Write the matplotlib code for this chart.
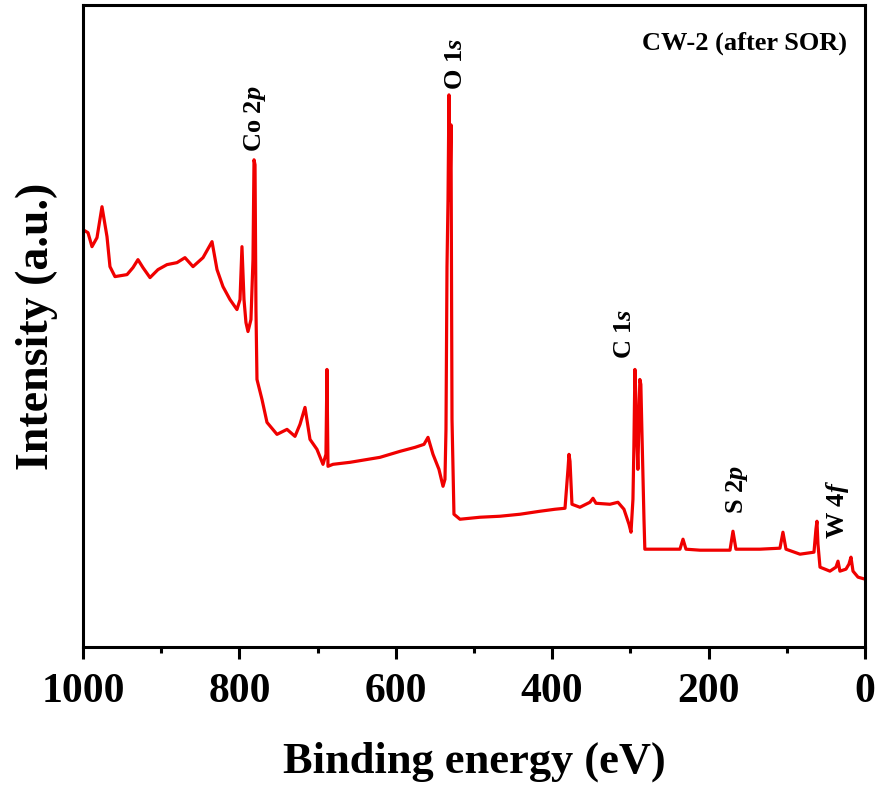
import matplotlib
matplotlib.use("Agg")
import matplotlib.pyplot as plt
from matplotlib.ticker import MultipleLocator

plt.rcParams['font.family'] = ['Liberation Serif', 'DejaVu Serif']
plt.rcParams['font.weight'] = 'bold'
plt.rcParams['mathtext.fontset'] = 'custom'
plt.rcParams['mathtext.it'] = 'Liberation Serif:italic:bold'
plt.rcParams['mathtext.rm'] = 'Liberation Serif:bold'

# Binding energy (eV) and intensity (a.u.)
energy = [1000, 993.6, 988.5, 982.1, 975.7, 969.3, 965.5, 959.1, 943.7, 936.1,
          929.7, 923.3, 914.3, 904.1, 892.6, 879.8, 869.6, 859.3, 846.5, 835.0,
          828.6, 821.0, 812.0, 803.1, 799.2, 796.7, 794.1, 791.6, 789.0, 785.2,
          782.6, 781.3, 780.0, 778.8, 777.5, 771.1, 764.7, 751.9, 739.1, 728.9,
          722.5, 716.1, 709.7, 700.8, 693.1, 689.3, 688.0, 686.7, 680.3, 658.6,
          620.2, 594.6, 575.4, 563.9, 558.8, 552.4, 544.8, 539.6, 537.1, 535.8,
          534.5, 533.2, 532.0, 530.7, 529.4, 528.1, 525.6, 517.9, 492.3, 466.8,
          441.2, 415.6, 396.4, 383.6, 379.8, 378.5, 377.2, 374.7, 364.5, 351.7,
          347.8, 344.0, 326.1, 315.9, 308.2, 301.8, 299.2, 296.7, 295.5, 294.2,
          292.9, 291.7, 290.4, 287.9, 286.6, 285.3, 282.6, 281.5, 262.1, 236.6,
          232.7, 228.9, 211.0, 172.6, 168.8, 165.0, 134.3, 108.7, 104.9, 101.0,
          83.1, 65.2, 62.7, 61.4, 60.1, 57.5, 44.8, 37.1, 34.5, 32.0,
          24.3, 20.5, 17.9, 15.3, 8.9, 0.0]
intensity = [418, 415, 401, 410, 441, 411, 381, 371, 373, 380,
             388, 380, 370, 378, 383, 385, 390, 381, 390, 406,
             378, 361, 348, 338, 348, 401, 348, 325, 316, 328,
             388, 488, 483, 338, 268, 248, 225, 213, 218, 211,
             223, 240, 208, 198, 183, 193, 278, 181, 183, 185,
             190, 196, 200, 203, 210, 193, 178, 161, 168, 218,
             381, 448, 553, 448, 523, 228, 133, 128, 130, 131,
             133, 136, 138, 139, 178, 193, 186, 143, 140, 145,
             149, 144, 143, 145, 138, 123, 115, 148, 201, 278,
             248, 208, 178, 268, 263, 218, 128, 98, 98, 98,
             108, 98, 97, 97, 116, 98, 98, 99, 115, 98,
             93, 95, 118, 126, 103, 80, 76, 80, 86, 76,
             78, 83, 90, 76, 70, 68]

peak_labels = ["Co $\\mathit{2p}$", "O $\\mathit{1s}$", "C $\\mathit{1s}$",
               "S $\\mathit{2p}$", "W $\\mathit{4f}$"]
peak_label_energy = [780, 524, 307, 164, 35]
peak_label_height = [496, 558, 288, 133, 108]
sample_label = "CW-2 (after SOR)"

fig = plt.figure(figsize=(8.81, 7.86), dpi=100)
ax = fig.add_axes([0.0942, 0.1768, 0.8876, 0.8168])

ax.plot(energy, intensity, color='#f00000', lw=2.3)

ax.set_xlim(1000, 0)
ax.set_ylim(0, 643)
ax.set_yticks([])
ax.xaxis.set_major_locator(MultipleLocator(200))
ax.xaxis.set_minor_locator(MultipleLocator(100))
ax.tick_params(axis='x', which='major', direction='out', length=8.5, width=2.2,
               labelsize=30, pad=10)
ax.tick_params(axis='x', which='minor', direction='out', length=4.5, width=2.2)
for lab in ax.get_xticklabels():
    lab.set_fontweight('bold')
for s in ax.spines.values():
    s.set_linewidth(2.2)

ax.set_xlabel("Binding energy (eV)", fontsize=32, fontweight='bold', labelpad=22)
ax.set_ylabel("Intensity (a.u.)", fontsize=33, fontweight='bold', labelpad=18)

for txt, e, h in zip(peak_labels, peak_label_energy, peak_label_height):
    ax.text(e, h, txt, rotation=90, ha='center', va='bottom', fontsize=19,
            fontweight='bold')

ax.text(0.977, 0.941, sample_label, transform=ax.transAxes, ha='right',
        va='center', fontsize=19, fontweight='bold')

fig.savefig("out.png", dpi=100)
